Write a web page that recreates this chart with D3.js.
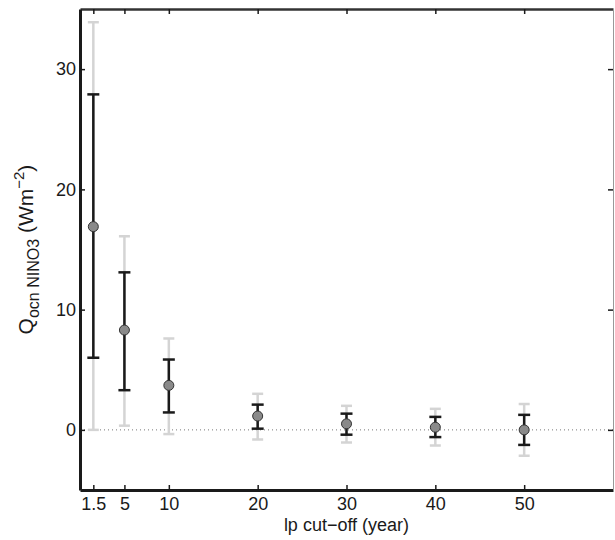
<!DOCTYPE html>
<html>
<head>
<meta charset="utf-8">
<script src="https://cdn.jsdelivr.net/npm/d3@7"></script>
<style>
  body { margin: 0; background: #fff; }
  svg { font-family: "Liberation Sans", Arial, sans-serif; }
</style>
</head>
<body>
<svg id="chart" width="615" height="540"></svg>
<script>
// lp cut-off (years) and Q_ocn estimates
const cutoffs = [1.5, 5, 10, 20, 30, 40, 50];
const means = [16.9, 8.3, 3.7, 1.15, 0.5, 0.22, 0.0];
const innerLow = [6.0, 3.3, 1.45, 0.1, -0.4, -0.6, -1.25];
const innerHigh = [27.9, 13.1, 5.85, 2.1, 1.35, 1.08, 1.25];
const outerLow = [0.0, 0.35, -0.35, -0.8, -1.05, -1.3, -2.15];
const outerHigh = [33.9, 16.1, 7.6, 3.0, 2.0, 1.75, 2.15];
const xTicks = [1.5, 5, 10, 20, 30, 40, 50];
const yTicks = [0, 10, 20, 30];

(function() {
	let svg = d3.select("#chart"),
		left = 80, right = 613, top = 9, bottom = 490;

	let x = d3.scaleLinear().domain([0, 60]).range([left, right]);
	let y = d3.scaleLinear().domain([-5, 35]).range([bottom, top]);

	let data = cutoffs.map(function(c, i) {
		return { x: c, m: means[i], lo: innerLow[i], hi: innerHigh[i], lo2: outerLow[i], hi2: outerHigh[i] };
	});

	// zero line
	svg.append("line")
		.attr("x1", x(0)).attr("x2", x(60))
		.attr("y1", y(0)).attr("y2", y(0))
		.attr("stroke", "#777")
		.attr("stroke-width", 1)
		.attr("stroke-dasharray", "1,3");

	// outer (gray) error bars
	let outer = svg.append("g").attr("stroke", "#d4d4d4").attr("stroke-width", 2.5);
	data.forEach(function(d) {
		outer.append("line").attr("x1", x(d.x)).attr("x2", x(d.x)).attr("y1", y(d.lo2)).attr("y2", y(d.hi2));
		outer.append("line").attr("x1", x(d.x) - 5.5).attr("x2", x(d.x) + 5.5).attr("y1", y(d.lo2)).attr("y2", y(d.lo2));
		outer.append("line").attr("x1", x(d.x) - 5.5).attr("x2", x(d.x) + 5.5).attr("y1", y(d.hi2)).attr("y2", y(d.hi2));
	});

	// inner (black) error bars
	let inner = svg.append("g").attr("stroke", "#1a1a1a").attr("stroke-width", 2.5);
	data.forEach(function(d) {
		inner.append("line").attr("x1", x(d.x)).attr("x2", x(d.x)).attr("y1", y(d.lo)).attr("y2", y(d.hi));
		inner.append("line").attr("x1", x(d.x) - 6).attr("x2", x(d.x) + 6).attr("y1", y(d.lo)).attr("y2", y(d.lo));
		inner.append("line").attr("x1", x(d.x) - 6).attr("x2", x(d.x) + 6).attr("y1", y(d.hi)).attr("y2", y(d.hi));
	});

	// points
	svg.append("g").selectAll("circle")
		.data(data)
		.enter()
		.append("circle")
		.attr("cx", function(d) { return x(d.x); })
		.attr("cy", function(d) { return y(d.m); })
		.attr("r", 5)
		.attr("fill", "#8a8a8a")
		.attr("stroke", "#333")
		.attr("stroke-width", 1);

	// axes (ticks pointing inward, mirrored on top/right)
	let xAxis = svg.append("g")
		.attr("transform", "translate(0," + bottom + ")")
		.call(d3.axisBottom(x).tickValues(xTicks).tickSizeInner(-5).tickSizeOuter(0).tickPadding(7).tickFormat(d3.format("")));
	let xTop = svg.append("g")
		.attr("transform", "translate(0," + top + ")")
		.call(d3.axisTop(x).tickValues(xTicks).tickSizeInner(-5).tickSizeOuter(0).tickFormat(""));
	let yAxis = svg.append("g")
		.attr("transform", "translate(" + left + ",0)")
		.call(d3.axisLeft(y).tickValues(yTicks).tickSizeInner(-5).tickSizeOuter(0).tickPadding(4));
	let yRight = svg.append("g")
		.attr("transform", "translate(" + right + ",0)")
		.call(d3.axisRight(y).tickValues(yTicks).tickSizeInner(-5).tickSizeOuter(0).tickFormat(""));

	[xAxis, xTop, yAxis, yRight].forEach(function(a) {
		a.selectAll(".tick line").attr("stroke", "#1a1a1a").attr("stroke-width", 1.5);
	});

	[xAxis, yAxis].forEach(function(a) {
		a.select(".domain").attr("stroke", "#1a1a1a").attr("stroke-width", 3);
		a.selectAll(".tick text").attr("fill", "#1a1a1a").style("font-size", "18px").style("font-family", "'Liberation Sans', Arial, sans-serif");
	});
	xTop.select(".domain").attr("stroke", "#333").attr("stroke-width", 2.5);
	yRight.select(".domain").attr("stroke", "#999").attr("stroke-width", 1);

	// axis titles
	svg.append("text")
		.attr("x", (left + right) / 2)
		.attr("y", 531)
		.attr("text-anchor", "middle")
		.style("font-size", "18px")
		.attr("fill", "#1a1a1a")
		.text("lp cut\u2212off (year)");

	let ylab = svg.append("text")
		.attr("transform", "translate(33," + ((top + bottom) / 2) + ") rotate(-90)")
		.attr("text-anchor", "middle")
		.style("font-size", "21px")
		.attr("fill", "#1a1a1a");
	ylab.append("tspan").text("Q");
	ylab.append("tspan").attr("dy", 6).style("font-size", "16px").text("ocn NINO3");
	ylab.append("tspan").attr("dy", -6).text(" (Wm");
	ylab.append("tspan").attr("dy", -9).style("font-size", "15px").text("\u22122");
	ylab.append("tspan").attr("dy", 9).text(")");
})();
</script>
</body>
</html>
